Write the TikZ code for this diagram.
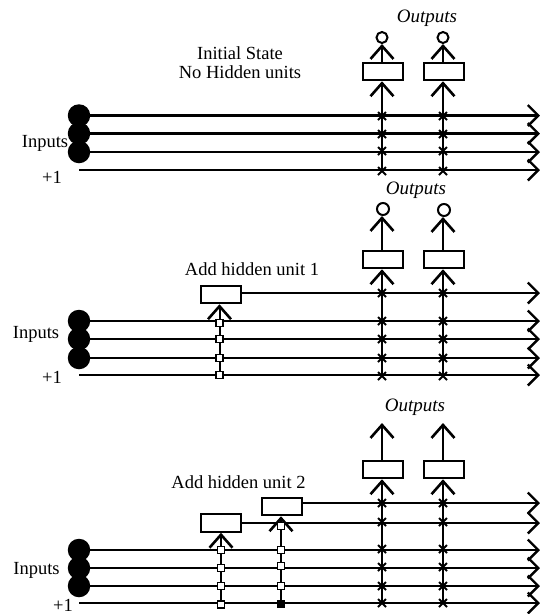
\documentclass[tikz,border=0pt]{standalone}
\usepackage{fontspec}
\setmainfont{Liberation Serif}
\usetikzlibrary{arrows.meta,shapes.misc,backgrounds}
\tikzset{
  unitbox/.style={draw,line width=2pt,fill=white,minimum width=40pt,minimum height=17.5pt,inner sep=0pt},
  inball/.style={circle,fill=black,minimum size=22.5pt,inner sep=0pt},
  xmark/.style={cross out,draw,line width=2pt,minimum size=6pt,inner sep=0pt},
  sqmark/.style={draw,line width=1.8pt,fill=white,minimum size=7pt,inner sep=0pt},
  head/.style={circle,draw,line width=2pt,minimum size=11pt,inner sep=0pt},
  lab/.style={inner sep=0pt,font=\fontsize{18.5}{20}\selectfont,align=center},
  blab/.style={lab,font=\fontsize{18.5}{20}\selectfont},
  olab/.style={lab,font=\fontsize{19}{20}\selectfont\itshape},
  wire/.style={line width=2.2pt},
  bus/.style={wire,-{Straight Barb[length=10.5pt,width=21pt,line width=2.4pt]}},
  feed/.style={line width=2pt,-{Straight Barb[length=13pt,width=23pt,line width=2.6pt]}}
}
\begin{document}
\begin{tikzpicture}[x=1pt,y=-1pt]
\useasboundingbox (0,0) rectangle (540,614);
\begin{pgfonlayer}{background}
\fill[white] (0,0) rectangle (540,614);
\end{pgfonlayer}
% ---- panel A
\node[olab] (oa) at (427,18) {Outputs};
\node[lab] (ta) at (240,63) {Initial State\\[-1pt]No Hidden units};
\node[blab] (ia) at (45,143) {Inputs};
\node[blab] (pa) at (52,177) {+1};
\node[inball] (a1) at (79,115.5) {};
\node[inball] (a2) at (79,133.5) {};
\node[inball] (a3) at (79,152) {};
\coordinate (a4) at (79,170);
\foreach \n/\y in {1/115.5,2/133.5,3/152,4/170}{\coordinate (ae\n) at (540,\y);}
\node[unitbox] (ab1) at (382.5,71.5) {};
\node[unitbox] (ab2) at (443.5,71.5) {};
\node[head] (ah1) at (382,37.5) {};
\node[head] (ah2) at (443,37.5) {};
\foreach \c/\x in {1/382,2/443}{
  \foreach \r/\y in {1/116,2/134,3/151,4/171}{\node[xmark] (ax\c\r) at (\x,\y) {};}
}
\begin{pgfonlayer}{background}
\draw[bus,line width=3pt] (a1.center) -- (ae1);
\draw[bus] (a2.center) -- (ae2);
\draw[bus] (a3.center) -- (ae3);
\draw[bus] (a4) -- (ae4);
\draw[feed] (ax14.center) -- (ax14.center |- ab1.south);
\draw[feed] (ax24.center) -- (ax24.center |- ab2.south);
\draw[feed] (ah1.south |- ab1.north) -- (ah1.south);
\draw[feed] (ah2.south |- ab2.north) -- (ah2.south);
\end{pgfonlayer}
% ---- panel B
\node[olab] (ob) at (416,190) {Outputs};
\node[lab] (tb) at (252,269) {Add hidden unit 1};
\node[blab] (ib) at (36,334) {Inputs};
\node[blab] (pb) at (52,377) {+1};
\node[inball] (b1) at (79,321) {};
\node[inball] (b2) at (79,339) {};
\node[inball] (b3) at (79,358) {};
\coordinate (b4) at (79,375);
\foreach \n/\y in {0/293,1/321,2/339,3/358,4/375}{\coordinate (be\n) at (540,\y);}
\node[unitbox] (bh) at (220.5,294.5) {};
\node[unitbox] (bb1) at (382.5,259.5) {};
\node[unitbox] (bb2) at (443.5,259.5) {};
\node[head,minimum size=12pt] (bc1) at (383,209) {};
\node[head,minimum size=12pt] (bc2) at (444,210) {};
\foreach \r/\y in {1/323,2/339,3/358,4/375}{\node[sqmark] (bs\r) at (219.5,\y) {};}
\foreach \c/\x in {1/382,2/443}{
  \foreach \r/\y in {0/293,1/321,2/339,3/358,4/376}{\node[xmark] (bx\c\r) at (\x,\y) {};}
}
\begin{pgfonlayer}{background}
\draw[bus] (bh.east |- be0) -- (be0);
\draw[bus] (b1.center) -- (be1);
\draw[bus] (b2.center) -- (be2);
\draw[bus] (b3.center) -- (be3);
\draw[bus] (b4) -- (be4);
\draw[feed] (bs4.center) -- (bs4.center |- bh.south);
\draw[feed] (bx14.center) -- (bx14.center |- bb1.south);
\draw[feed] (bx24.center) -- (bx24.center |- bb2.south);
\draw[feed] (bx14.center |- bb1.north) -- (bx14.center |- bc1.south);
\draw[feed] (bx24.center |- bb2.north) -- (bx24.center |- bc2.south);
\end{pgfonlayer}
% ---- panel C
\node[olab] (oc) at (415,407) {Outputs};
\node[lab] (tc) at (238.5,482) {Add hidden unit 2};
\node[blab] (ic) at (36.5,570) {Inputs};
\node[blab] (pc) at (63,605) {+1};
\node[inball] (c1) at (79,550) {};
\node[inball] (c2) at (79,568) {};
\node[inball] (c3) at (79,586) {};
\coordinate (c4) at (79,603);
\foreach \n/\y in {a/503,b/523,1/550,2/568,3/586,4/603}{\coordinate (ce\n) at (540,\y);}
\node[unitbox] (ch1) at (220.5,523) {};
\node[unitbox] (ch2) at (281.5,506.5) {};
\node[unitbox] (cb1) at (382.5,469.5) {};
\node[unitbox] (cb2) at (443.5,469.5) {};
\coordinate (ct1) at (382,423);
\coordinate (ct2) at (443,423);
\foreach \r/\y in {1/550,2/568,3/586,4/604.5}{\node[sqmark] (cs\r) at (221,\y) {};}
\foreach \r/\y in {0/526,1/550,2/566,3/586}{\node[sqmark] (cq\r) at (281,\y) {};}
\node[sqmark,fill=black] (cq4) at (281,604) {};
\foreach \c/\x in {1/382,2/443}{
  \foreach \r/\y in {a/503,b/522,1/549,2/567,3/586,4/603}{\node[xmark] (cx\c\r) at (\x,\y) {};}
}
\begin{pgfonlayer}{background}
\draw[bus] (ch2.east |- cea) -- (cea);
\draw[bus] (ch1.east |- ceb) -- (ceb);
\draw[bus] (c1.center) -- (ce1);
\draw[bus] (c2.center) -- (ce2);
\draw[bus] (c3.center) -- (ce3);
\draw[bus] (c4) -- (ce4);
\draw[feed] (cs4.center) -- (cs4.center |- ch1.south);
\draw[feed] (cq4.center) -- (cq4.center |- ch2.south);
\draw[feed] (cx14.center) -- (cx14.center |- cb1.south);
\draw[feed] (cx24.center) -- (cx24.center |- cb2.south);
\draw[feed] (ct1 |- cb1.north) -- (ct1);
\draw[feed] (ct2 |- cb2.north) -- (ct2);
\end{pgfonlayer}
\end{tikzpicture}
\end{document}
